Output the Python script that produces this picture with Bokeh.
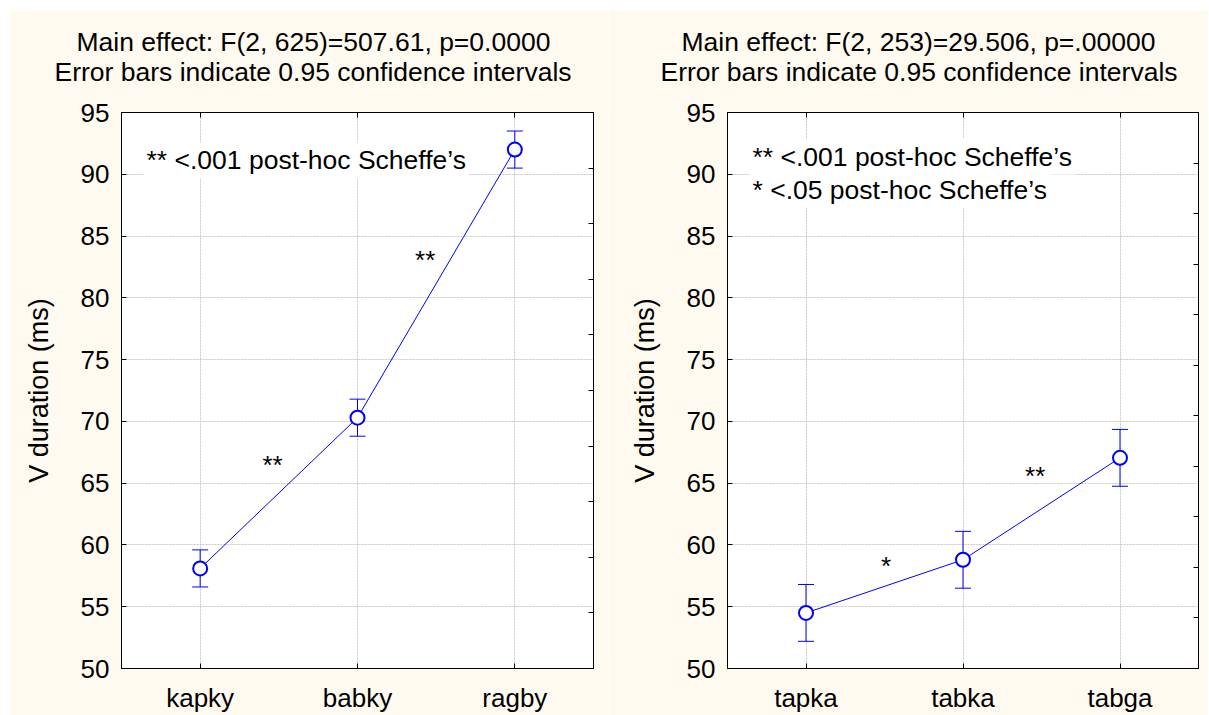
from bokeh.plotting import figure
from bokeh.models import (Range1d, LinearAxis, FixedTicker, Label, Title,
                          Whisker, TeeHead, ColumnDataSource)
from bokeh.core.properties import value
from bokeh.layouts import row
from bokeh.embed import file_html
from bokeh.resources import INLINE

FONT = "Liberation Sans"

# ---------------- data ----------------
y_ticks = [50, 55, 60, 65, 70, 75, 80, 85, 90, 95]

left_categories = ["kapky", "babky", "ragby"]
left_means = [58.1, 70.3, 92.0]
left_ci = [1.5, 1.5, 1.5]
left_titles = ["Main effect: F(2, 625)=507.61, p=0.0000",
               "Error bars indicate 0.95 confidence intervals"]
left_notes = ["** <.001 post-hoc Scheffe\u2019s"]
left_note_y = [91.12]
left_star_text = ["**", "**"]
left_star_x = [1.46, 2.43]
left_star_y = [66.5, 83.1]

right_categories = ["tapka", "tabka", "tabga"]
right_means = [54.5, 58.8, 67.05]
right_ci = [2.3, 2.3, 2.3]
right_titles = ["Main effect: F(2, 253)=29.506, p=.00000",
                "Error bars indicate 0.95 confidence intervals"]
right_notes = ["** <.001 post-hoc Scheffe\u2019s", "* <.05 post-hoc Scheffe\u2019s"]
right_note_y = [91.43, 88.75]
right_star_text = ["*", "**"]
right_star_x = [1.51, 2.46]
right_star_y = [58.27, 65.6]


def tick_only_axis(ticks, **kw):
    return LinearAxis(ticker=FixedTicker(ticks=ticks),
                      major_label_text_font_size="1px", major_label_text_color=None,
                      major_label_standoff=0, major_tick_in=5, major_tick_out=0,
                      minor_tick_line_color=None, axis_line_color="black",
                      major_tick_line_color="black", **kw)


def make_panel(categories, means, ci, titles, title_offsets, notes, note_y, star_text,
               star_x, star_y, right_divisions, border_left, border_right, frame_w):
    xs = list(range(1, len(categories) + 1))
    p = figure(frame_width=frame_w, frame_height=556,
               x_range=Range1d(0.5, len(categories) + 0.5),
               y_range=Range1d(y_ticks[0], y_ticks[-1]),
               output_backend="svg", toolbar_location=None, title_location=None,
               min_border_left=border_left, min_border_right=border_right,
               min_border_top=102, min_border_bottom=45,
               background_fill_color="white", border_fill_color="#FFFAF0",
               outline_line_color="black", outline_line_width=1)

    xaxis = p.below[0]
    yaxis = p.left[0]
    xaxis.ticker = FixedTicker(ticks=xs)
    xaxis.major_label_overrides = {i: c for i, c in zip(xs, categories)}
    yaxis.ticker = FixedTicker(ticks=y_ticks)
    for ax in (xaxis, yaxis):
        ax.major_tick_in = 5
        ax.major_tick_out = 0
        ax.minor_tick_line_color = None
        ax.axis_line_color = "black"
        ax.major_tick_line_color = "black"
        ax.major_label_text_font = FONT
        ax.major_label_text_font_size = "26px"
        ax.major_label_text_color = "black"
    xaxis.major_label_standoff = 14
    yaxis.major_label_standoff = 12
    yaxis.axis_label = "V duration (ms)"
    yaxis.axis_label_text_font = FONT
    yaxis.axis_label_text_font_size = "27px"
    yaxis.axis_label_text_font_style = "normal"
    yaxis.axis_label_text_color = "black"
    yaxis.axis_label_standoff = 24

    p.xgrid.grid_line_color = "#c8c8c8"
    p.xgrid.grid_line_dash = "2 1"
    p.ygrid.grid_line_color = "#c8c8c8"
    p.ygrid.grid_line_dash = "2 1"

    # secondary right axis (ticks only) and top axis (ticks only)
    p.extra_y_ranges = {"r": Range1d(0, right_divisions)}
    p.add_layout(tick_only_axis(list(range(right_divisions + 1)), y_range_name="r"), "right")
    p.add_layout(tick_only_axis(xs), "above")

    # two-line heading
    p.add_layout(Title(text=titles[1], align="left", offset=title_offsets[1],
                       text_font=FONT, text_font_size="26.5px",
                       text_font_style="normal", text_color="black",
                       standoff=52), "above")
    p.add_layout(Title(text=titles[0], align="left", offset=title_offsets[0],
                       text_font=FONT, text_font_size="26.5px",
                       text_font_style="normal", text_color="black",
                       standoff=-56), "above")

    src = ColumnDataSource(dict(x=xs, y=means,
                                upper=[m + c for m, c in zip(means, ci)],
                                lower=[m - c for m, c in zip(means, ci)]))
    p.line("x", "y", source=src, line_color="blue", line_width=1)
    w = Whisker(source=src, base="x", upper="upper", lower="lower",
                line_color="blue", line_width=1, level="underlay",
                upper_head=TeeHead(size=16, line_color="blue", line_width=1),
                lower_head=TeeHead(size=16, line_color="blue", line_width=1))
    p.add_layout(w)
    p.scatter("x", "y", source=src, marker="circle", size=14,
              line_color="blue", line_width=2, fill_color="white")

    p.text(x=star_x, y=star_y, text=star_text, text_align="center",
           text_baseline="alphabetic", text_font=value(FONT),
           text_font_size=value("26px"), text_color="black")

    for t, yy in zip(notes, note_y):
        p.add_layout(Label(x=0.64, y=yy, text=t, text_font=FONT,
                           text_font_size="26.5px", text_color="black",
                           text_baseline="alphabetic",
                           background_fill_color="white", padding=3))
    return p


p1 = make_panel(left_categories, left_means, left_ci, left_titles, [-45, -67], left_notes,
                left_note_y, left_star_text, left_star_x, left_star_y,
                10, 111, 15, 472)
p2 = make_panel(right_categories, right_means, right_ci, right_titles, [-46, -67], right_notes,
                right_note_y, right_star_text, right_star_x, right_star_y,
                11, 119, 10, 471)

layout = row(p1, p2, margin=(10, 0, 0, 10))
open("out.html", "w").write(file_html(layout, INLINE))
